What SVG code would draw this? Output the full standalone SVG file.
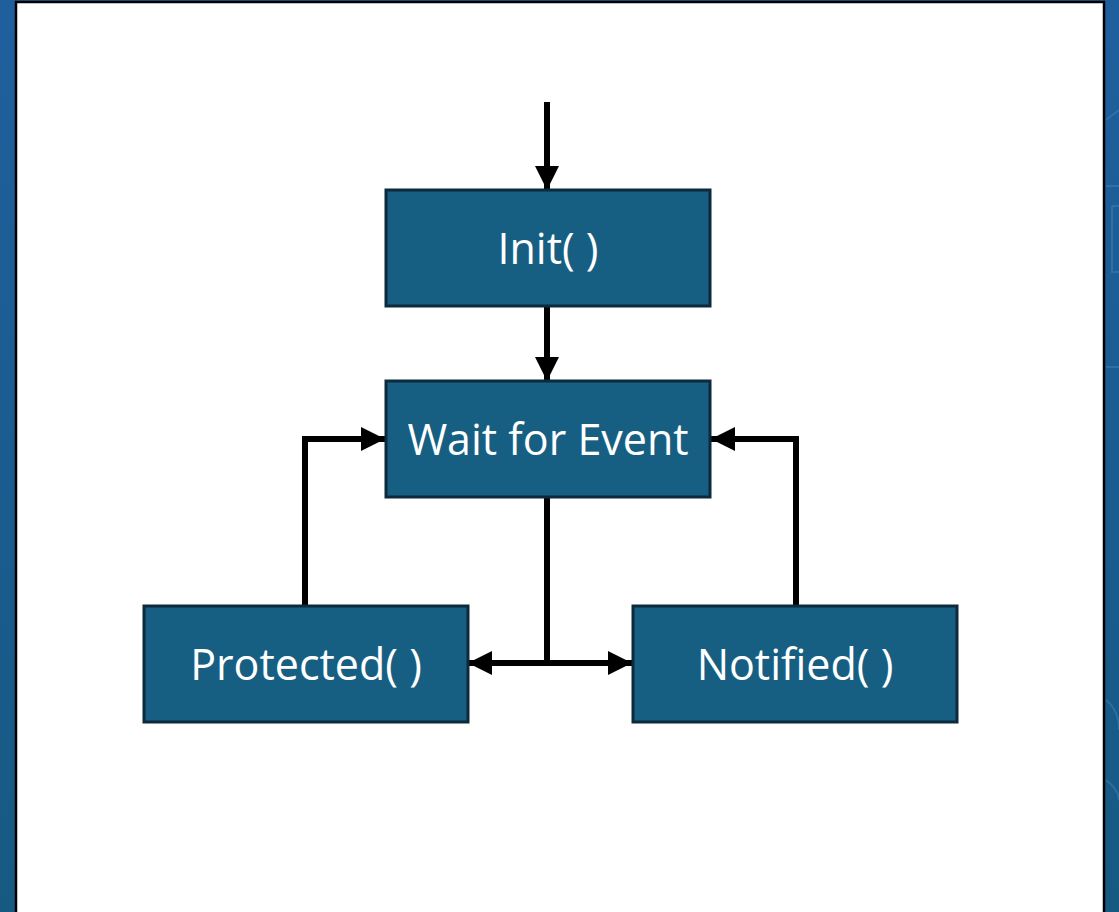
<svg xmlns="http://www.w3.org/2000/svg" width="1119" height="912" viewBox="0 0 1119 912">
  <style>
    .node rect { fill: #175f82; stroke: #0c2a3c; stroke-width: 3; }
    .node text { fill: #ffffff; font-family: "Open Sans", "Noto Sans", sans-serif; font-size: 43px; text-anchor: middle; dominant-baseline: central; }
    .wire { fill: none; stroke: #000000; stroke-width: 6; stroke-linejoin: miter; }
  </style>
  <defs>
    <linearGradient id="bg" x1="0" y1="0" x2="0" y2="1">
      <stop offset="0" stop-color="#1f5f9e"/>
      <stop offset="1" stop-color="#165a82"/>
    </linearGradient>
    <marker id="head" viewBox="0 0 24 24" refX="24" refY="12" markerWidth="24" markerHeight="24" markerUnits="userSpaceOnUse" orient="auto">
      <path d="M0,0 L24,12 L0,24 Z" fill="#000000"/>
    </marker>
  </defs>

  <!-- backdrop and white panel -->
  <rect x="0" y="0" width="1119" height="912" fill="url(#bg)"/>
  <g fill="none" stroke="#4a7fb0" stroke-width="2" opacity="0.5">
    <path d="M1106,120 L1119,110"/>
    <path d="M1106,186 L1119,186"/>
    <path d="M1112,206 L1119,206 M1112,206 L1112,272 L1119,272"/>
    <path d="M1106,367 L1119,367"/>
    <path d="M1106,700 Q1119,710 1119,730"/>
    <path d="M1106,780 Q1119,790 1119,800"/>
  </g>
  <rect x="16" y="2" width="1088" height="920" fill="#ffffff" stroke="#000000" stroke-width="2.5"/>

  <!-- connectors -->
  <g id="connectors">
    <path class="wire" d="M547,102 L547,190" marker-end="url(#head)"/>
    <path class="wire" d="M547,307 L547,381" marker-end="url(#head)"/>
    <path class="wire" d="M547,497 L547,663"/>
    <path class="wire" d="M550,663 L468,663" marker-end="url(#head)"/>
    <path class="wire" d="M544,663 L632,663" marker-end="url(#head)"/>
    <path class="wire" d="M305,605 L305,439 L385,439" marker-end="url(#head)"/>
    <path class="wire" d="M796,605 L796,439 L711,439" marker-end="url(#head)"/>
  </g>

  <g id="init" class="node">
    <rect x="386" y="190" width="324" height="116"/>
    <text x="548" y="247">Init( )</text>
  </g>
  <g id="wait" class="node">
    <rect x="386" y="381" width="324" height="116"/>
    <text x="548" y="438">Wait for Event</text>
  </g>
  <g id="protected" class="node">
    <rect x="144" y="606" width="324" height="116"/>
    <text x="306" y="663">Protected( )</text>
  </g>
  <g id="notified" class="node">
    <rect x="633" y="606" width="324" height="116"/>
    <text x="795" y="663">Notified( )</text>
  </g>
</svg>
